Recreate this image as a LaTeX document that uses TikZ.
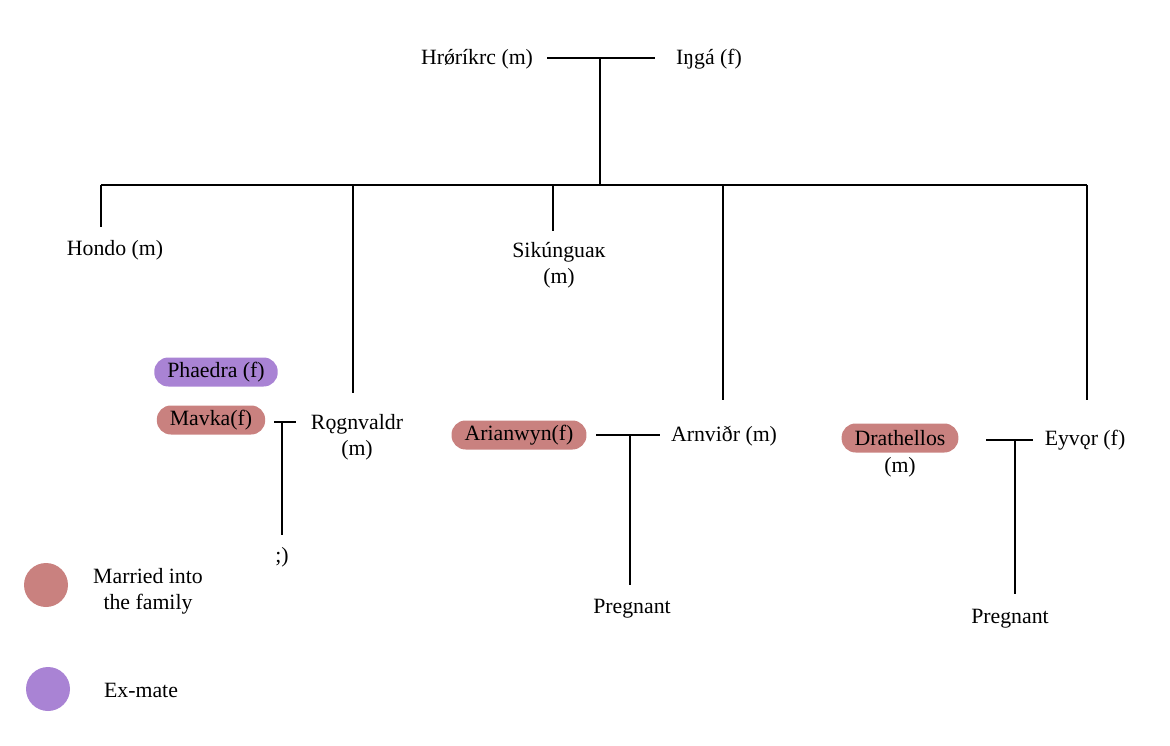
\documentclass[tikz,border=0pt]{standalone}
\usepackage{fontspec}
\setmainfont{Liberation Serif}
\definecolor{wed}{HTML}{C9817F}
\definecolor{exm}{HTML}{A983D4}
\begin{document}
\begin{tikzpicture}[x=1pt,y=-1pt,
  every node/.style={font=\fontsize{21.8}{26}\selectfont, inner sep=0pt},
  person/.style={align=center, yshift=-2pt},
  pill/.style={fill=wed, rounded corners=14pt, minimum height=29pt, inner xsep=13pt},
  expill/.style={pill, fill=exm},
  ln/.style={line width=1.2pt, black},
  dot/.style={circle, minimum size=44pt}]
\useasboundingbox (0,0) rectangle (1170,746);
% top couple
\node[person] (hro) at (477,57) {Hrǿríkrc (m)};
\node[person] (ing) at (709,57) {Iŋgá (f)};
\coordinate (hl) at (547,58);
\coordinate (hr) at (655,58);
\coordinate (hm) at (600,58);
\coordinate (hb) at (600,185);
\draw[ln] (hl) -- (hr);
\draw[ln] (hm) -- (hb);
% sibling bar
\coordinate (b1) at (101,185);
\coordinate (b2) at (353,185);
\coordinate (b3) at (553,185);
\coordinate (b4) at (723,185);
\coordinate (b5) at (1087,185);
\draw[ln] (b1) -- (b5);
\coordinate (d1) at (101,227);
\coordinate (d2) at (353,393);
\coordinate (d3) at (553,231);
\coordinate (d4) at (723,400);
\coordinate (d5) at (1087,400);
\draw[ln] (b1) -- (d1);
\draw[ln] (b2) -- (d2);
\draw[ln] (b3) -- (d3);
\draw[ln] (b4) -- (d4);
\draw[ln] (b5) -- (d5);
% children
\node[person] (hon) at (115,248) {Hondo (m)};
\node[person] (sik) at (559,263) {Sikúnguaĸ\\(m)};
\node[person] (rog) at (357,435) {Rǫgnvaldr\\(m)};
\node[person] (arn) at (724,434) {Arnviðr (m)};
\node[person] (eyv) at (1085,438) {Eyvǫr (f)};
% partners
\node[expill] (pha) at (216,372) {Phaedra (f)};
\node[pill] (mav) at (211,420) {Mavka(f)};
\node[pill] (ari) at (519,435) {Arianwyn(f)};
\node[pill] (dra) at (900,438) {Drathellos};
\node[person] (dram) at (900,465) {(m)};
% Mavka - Rognvaldr
\coordinate (m1) at (274,422);
\coordinate (m2) at (296,422);
\coordinate (mm) at (282,422);
\coordinate (mb) at (282,535);
\draw[ln] (m1) -- (m2);
\draw[ln] (mm) -- (mb);
\node[person] (wink) at (282,555) {;)};
% Arianwyn - Arnvidr
\coordinate (a1) at (596,435);
\coordinate (a2) at (660,435);
\coordinate (am) at (630,435);
\coordinate (ab) at (630,585);
\draw[ln] (a1) -- (a2);
\draw[ln] (am) -- (ab);
\node[person] (pr1) at (632,607) {Pregnant};
% Drathellos - Eyvor
\coordinate (e1) at (986,440);
\coordinate (e2) at (1033,440);
\coordinate (em) at (1015,440);
\coordinate (eb) at (1015,594);
\draw[ln] (e1) -- (e2);
\draw[ln] (em) -- (eb);
\node[person] (pr2) at (1010,617) {Pregnant};
% legend
\node[dot, fill=wed] (lw) at (46,585) {};
\node[person] (lwt) at (148,589) {Married into\\the family};
\node[dot, fill=exm] (le) at (48,689) {};
\node[person] (let) at (141,688) {Ex-mate};
\end{tikzpicture}
\end{document}
